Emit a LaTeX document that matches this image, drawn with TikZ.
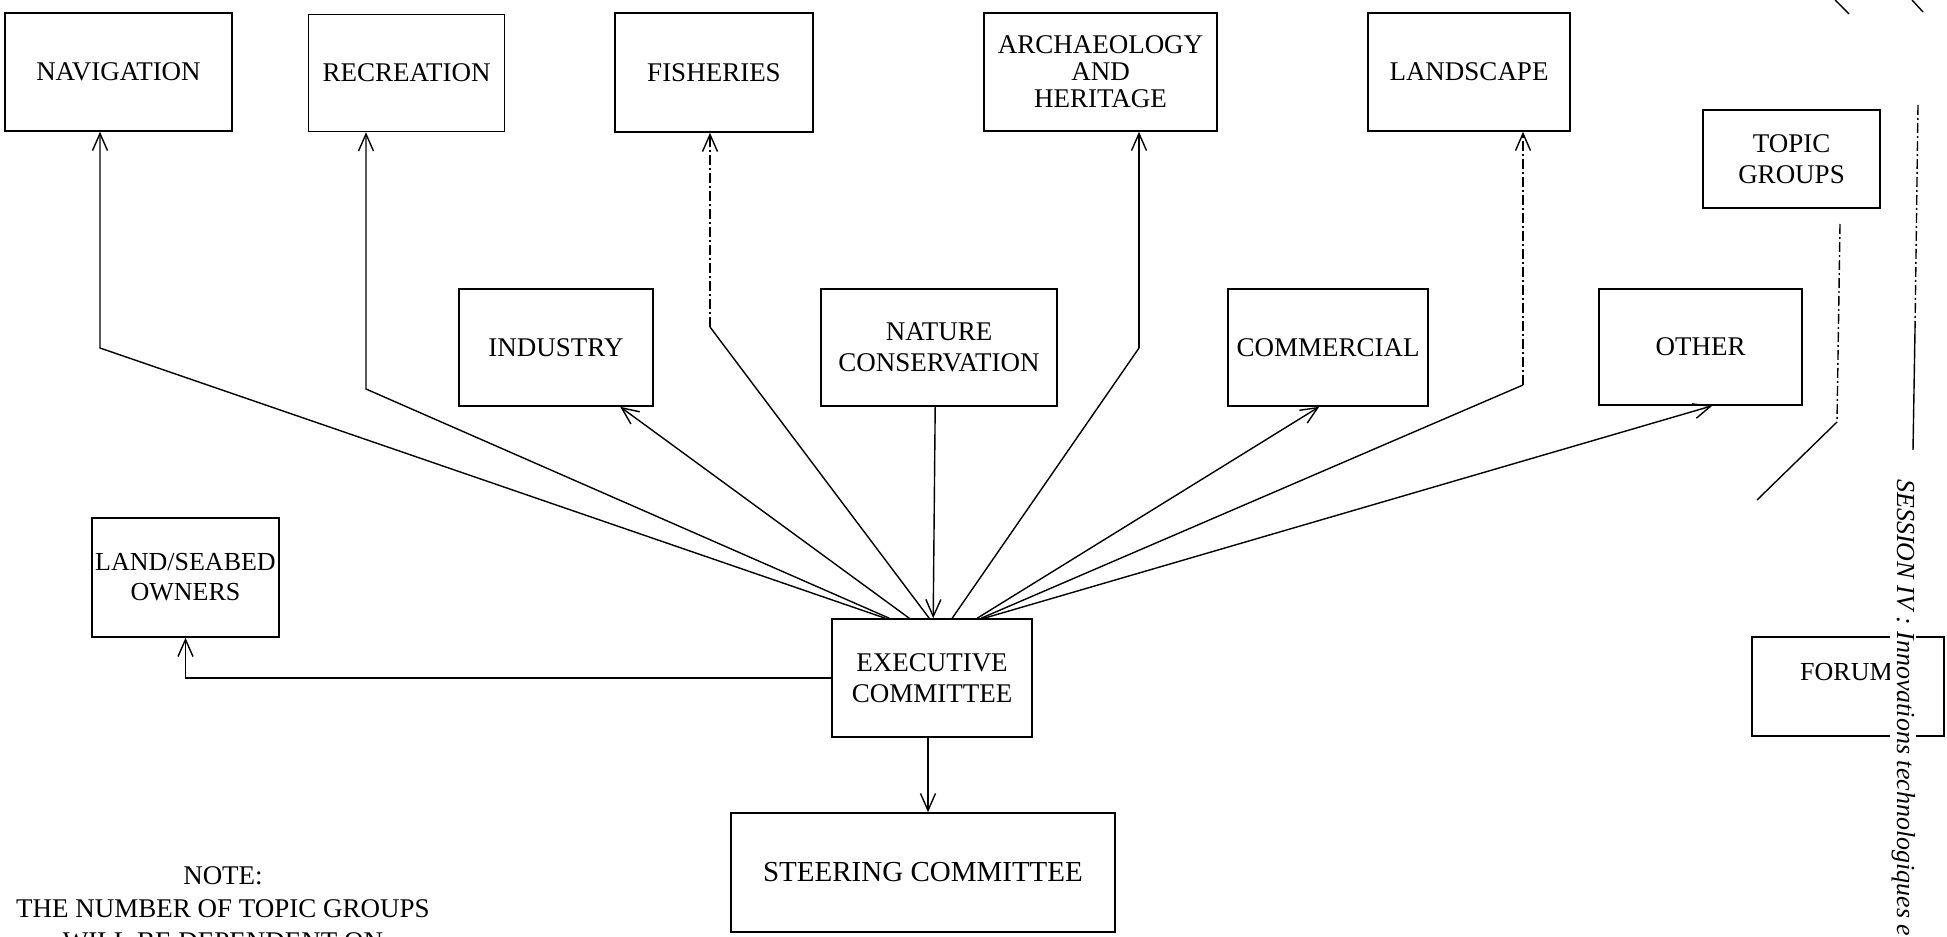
\documentclass[tikz,border=0pt]{standalone}
\usepackage{fontspec}
\setmainfont{Liberation Serif}
\usetikzlibrary{arrows.meta,calc}
\begin{document}
\begin{tikzpicture}[x=1pt,y=-1pt,
  box/.style={draw, line width=1.6pt, align=center, inner sep=0pt, font=\fontsize{27}{31}\selectfont},
  conn/.style={line width=1.4pt},
  arr/.style={conn, -{Straight Barb[length=17pt,width=15pt,line width=1.4pt]}},
  dashpat/.style={dash pattern=on 10pt off 3pt on 2pt off 3pt},
  lbl/.style={font=\fontsize{27}{33}\selectfont, align=center, inner sep=0pt},
]
\useasboundingbox (0,0) rectangle (1947,937);
\fill[white] (0,0) rectangle (1947,937);

% top row
\node[box, minimum width=227pt, minimum height=118pt] (nav) at (118.5,72) {NAVIGATION};
\node[box, minimum width=196pt, minimum height=117pt] (rec) at (406.5,73) {RECREATION};
\node[box, minimum width=198pt, minimum height=119pt] (fish) at (714,72.5) {FISHERIES};
\node[box, minimum width=233pt, minimum height=118pt, font=\fontsize{27}{27}\selectfont] (arch) at (1100.5,72) {ARCHAEOLOGY\\AND\\HERITAGE};
\node[box, minimum width=202pt, minimum height=118pt] (land) at (1469,72) {LANDSCAPE};
\node[box, minimum width=177pt, minimum height=98pt] (topic) at (1791.5,159) {TOPIC\\GROUPS};

% middle row
\node[box, minimum width=194pt, minimum height=117pt] (ind) at (556,347.5) {INDUSTRY};
\node[box, minimum width=236pt, minimum height=117pt] (nat) at (939,347.5) {NATURE\\CONSERVATION};
\node[box, minimum width=200pt, minimum height=117pt] (comm) at (1328,347.5) {COMMERCIAL};
\node[box, minimum width=203pt, minimum height=116pt] (other) at (1700.5,347) {OTHER};

% lower
\node[box, minimum width=187pt, minimum height=119pt, font=\fontsize{26}{30}\selectfont] (landown) at (185.5,577.5) {LAND/SEABED\\OWNERS};
\node[box, minimum width=200pt, minimum height=118pt] (exec) at (932,678) {EXECUTIVE\\COMMITTEE};
\node[box, minimum width=384pt, minimum height=119pt, font=\fontsize{29}{33}\selectfont] (steer) at (923,872.5) {STEERING COMMITTEE};
\node[box, minimum width=192pt, minimum height=99pt] (forum) at (1848,686.5) {};
\node[font=\fontsize{26}{30}\selectfont, anchor=base west, inner sep=0pt] (forumlbl) at (1800,680) {FORUM};

% note
\node[lbl, anchor=north] (note) at (223,866) {NOTE:\\THE NUMBER OF TOPIC GROUPS\\WILL BE DEPENDENT ON};

% side text
\node[font=\fontsize{26}{30}\selectfont\itshape, rotate=-90, anchor=base west, fill=white, inner sep=1pt] (session) at (1897,478) {SESSION IV : Innovations technologiques e};

% coordinates
\coordinate (navbend) at (100,348);
\coordinate (recbend) at (366,389);
\coordinate (fishbend) at (710,327);
\coordinate (archbend) at (1139,348);
\coordinate (landbend) at (1523,385);
\coordinate (tgstart) at (1840,224);
\coordinate (tgbend) at (1837,422);
\coordinate (tgend) at (1757,500);

% connectors
\draw[arr] ($(exec.north west)+(54,0)$) -- (navbend) -- (navbend |- nav.south);
\draw[arr] ($(exec.north west)+(58,0)$) -- (recbend) -- (recbend |- rec.south);
\draw[arr] ($(exec.north west)+(78,0)$) -- ($(ind.south west)+(162,0)$);
\draw[conn] ($(exec.north west)+(98,0)$) -- (fishbend);
\draw[arr, dashpat] (fishbend) -- (fishbend |- fish.south);
\draw[arr] ($(nat.south west)+(115,0)$) -- ($(exec.north west)+(102,0)$);
\draw[conn] ($(exec.north west)+(121,0)$) -- (archbend);
\draw[arr] (archbend) -- (archbend |- arch.south);
\draw[arr] ($(exec.north west)+(146,0)$) -- ($(comm.south west)+(92,0)$);
\draw[conn] ($(exec.north west)+(150,0)$) -- (landbend);
\draw[arr, dashpat] (landbend) -- (landbend |- land.south);
\draw[arr] ($(exec.north west)+(153,0)$) -- ($(other.south west)+(114,0)$);
\draw[arr] (exec.west) -| (landown.south);
\draw[arr] (exec.south -| 928,0) -- (steer.north -| 928,0);
\draw[conn, dashpat] (tgstart) -- (tgbend);
\draw[conn] (tgbend) -- (tgend);

% right edge marks
\coordinate (edgetop) at (1918,105);
\coordinate (edgemid) at (1915,330);
\coordinate (edgebot) at (1913,450);
\draw[conn, dashpat] (edgetop) -- (edgemid);
\draw[conn] (edgemid) -- (edgebot);
\coordinate (s1a) at (1835,0); \coordinate (s1b) at (1849,14);
\coordinate (s2a) at (1912,0); \coordinate (s2b) at (1923,12);
\draw[conn] (s1a) -- (s1b);
\draw[conn] (s2a) -- (s2b);
\end{tikzpicture}
\end{document}
